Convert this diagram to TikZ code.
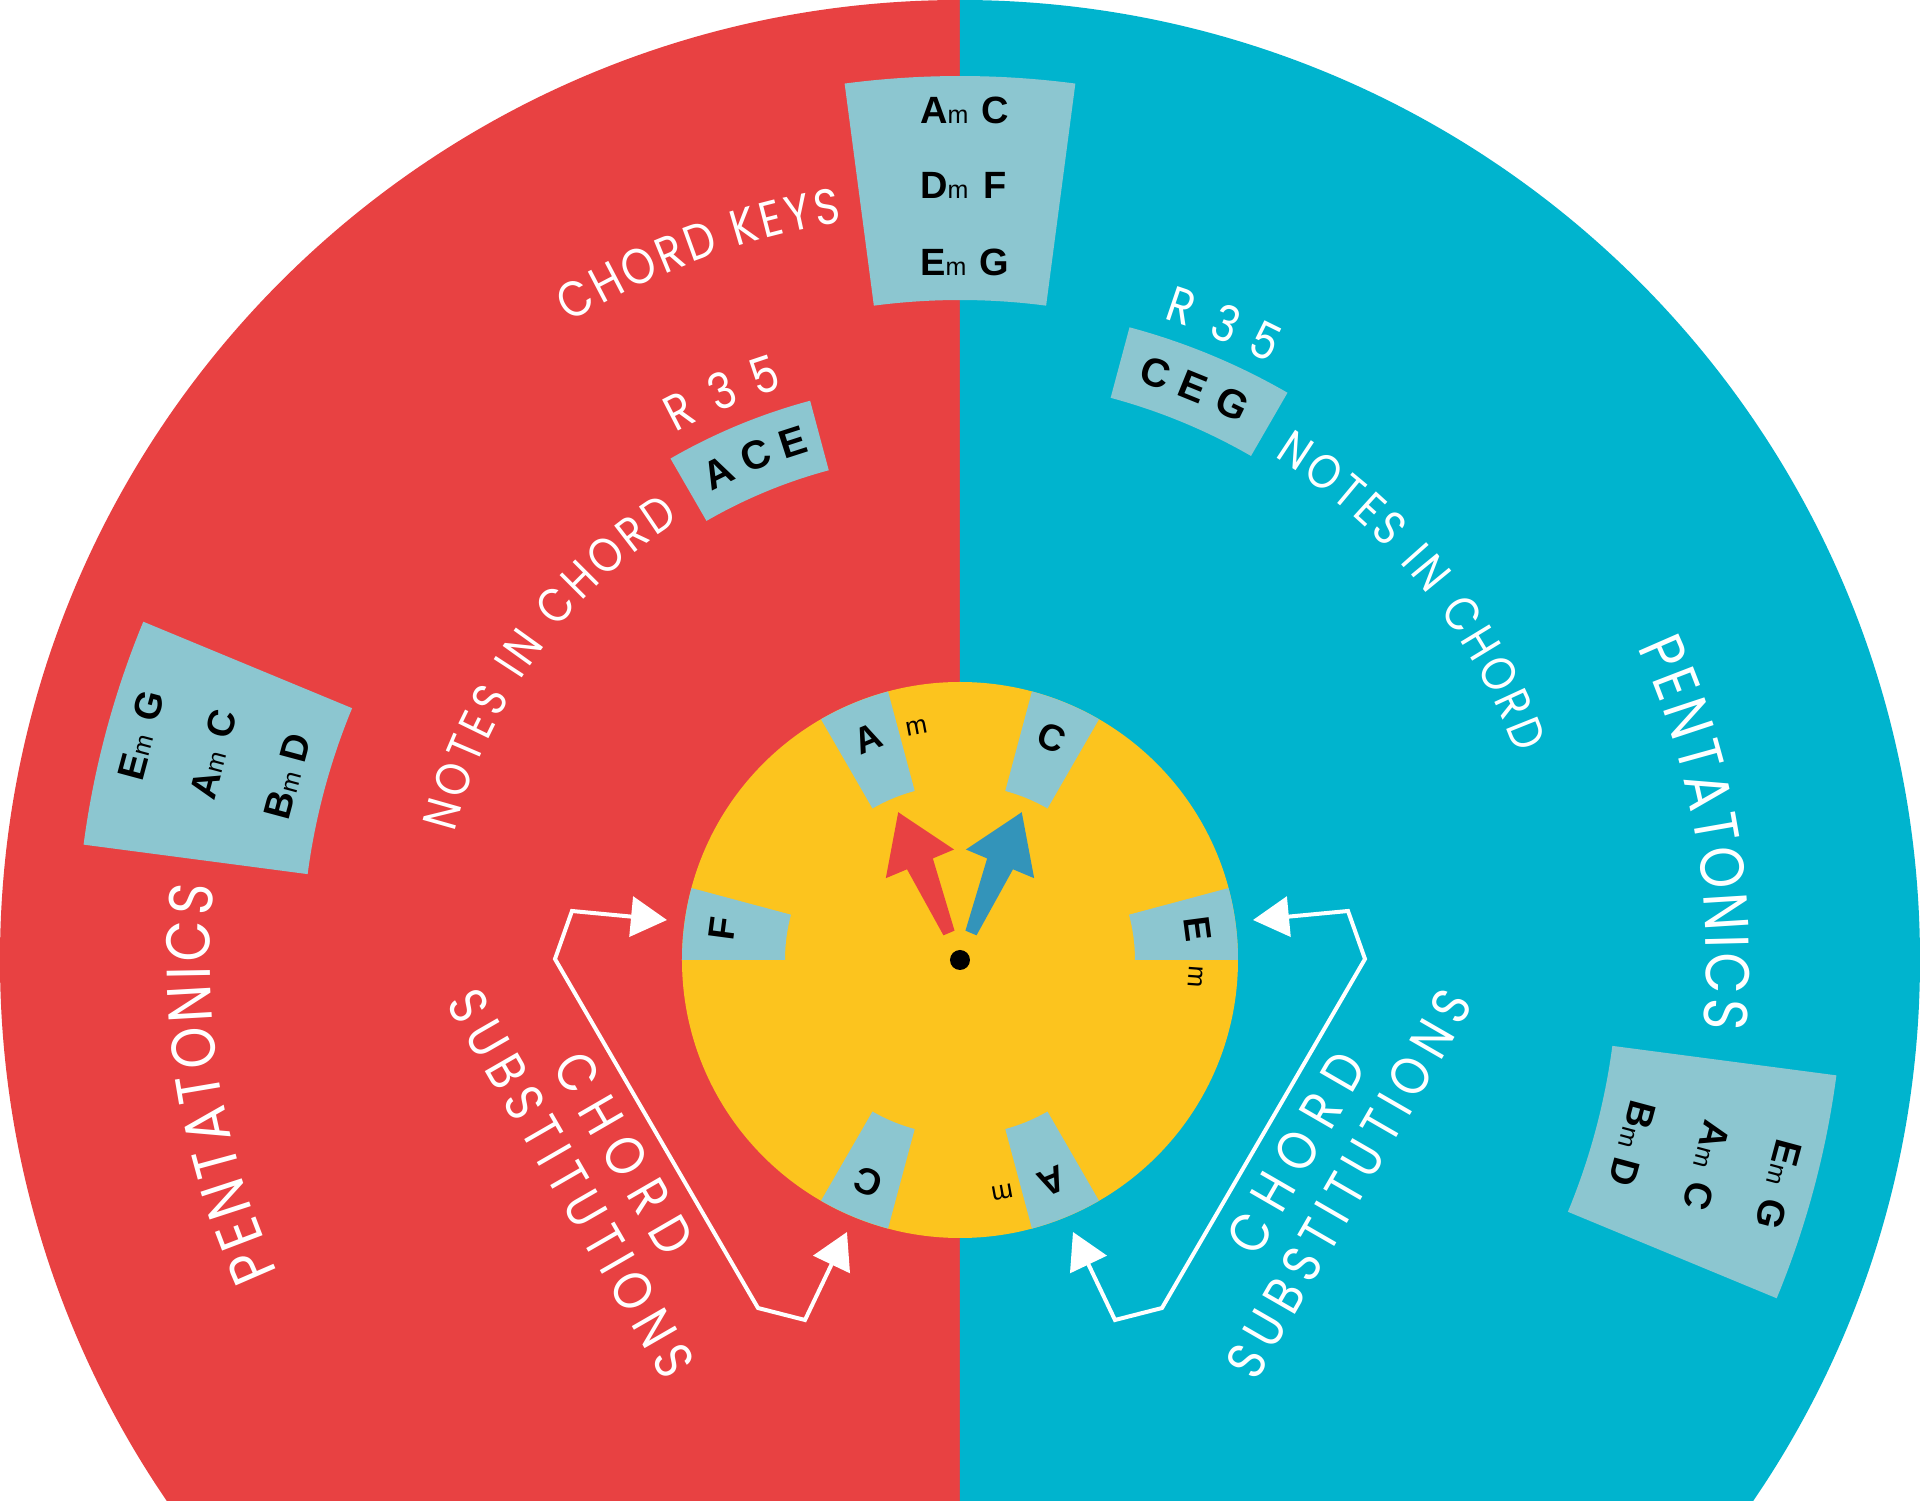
\documentclass[tikz,border=0pt]{standalone}
\usepackage{fontspec}
\setmainfont{Liberation Sans}
\newfontfamily\lt{Poppins}[FakeStretch=0.86]
\usetikzlibrary{decorations.text,arrows.meta}
\definecolor{cred}{HTML}{E84142}
\definecolor{cblue}{HTML}{00B4CE}
\definecolor{cyel}{HTML}{FCC41E}
\definecolor{ctile}{HTML}{8CC6D0}
\definecolor{cdblue}{HTML}{3394BA}
\newcommand\annsec[4]{(#1:#4) arc[start angle=#1,end angle=#2,radius=#4] -- (#2:#3) arc[start angle=#2,end angle=#1,radius=#3] -- cycle}
\newcommand\chordL[1]{{\fontsize{38}{38}\selectfont\bfseries #1}}
\newcommand\chordm{{\fontsize{25}{25}\selectfont m}}
\newcommand\arctext[5]{\path[decorate,decoration={text along path,text align={fit to path},text={|\lt\fontsize{#1}{#1}\selectfont\color{white}|#5}}] (#3:#2) arc[start angle=#3,end angle=#4,radius=#2];}
\newcommand\linetext[4]{\path[decorate,decoration={text along path,text align={fit to path},text={|\lt\fontsize{#1}{#1}\selectfont\color{white}|#4}}] (#2) -- (#3);}
\newcommand\keytile[8]{%
\begin{scope}[rotate=#1, transform shape]
\node[keyl] (#2a1) at (-40,836) {\chordL{#3}\chordm};
\node[keyl] (#2b1) at (21,836) {\chordL{#4}};
\node[keyl] (#2a2) at (-40,761) {\chordL{#5}\chordm};
\node[keyl] (#2b2) at (23,761) {\chordL{#6}};
\node[keyl] (#2a3) at (-40,684) {\chordL{#7}\chordm};
\node[keyl] (#2b3) at (19,684) {\chordL{#8}};
\end{scope}}
\tikzset{
  keyl/.style={anchor=base west, inner sep=0pt, text=black},
  wheel/.style={inner sep=0pt, text=black, font=\fontsize{37}{37}\selectfont\bfseries},
  chordnote/.style={inner sep=0pt, text=black, font=\fontsize{40}{40}\selectfont\bfseries},
  wheelm/.style={inner sep=0pt, text=black, font=\fontsize{26}{26}\selectfont},
  thin/.style={inner sep=0pt, text=white, font=\lt\fontsize{50}{50}\selectfont},
  conn/.style={draw=white, line width=4pt, line join=miter,
    {Triangle[length=36pt,width=40pt]}-{Triangle[length=36pt,width=40pt]}}
}
\begin{document}
\begin{tikzpicture}[x=1pt,y=1pt]
\clip (-960,-541) rectangle (960,960);
\fill[white] (-960,-541) rectangle (960,960);
% big halves
\fill[cred] (0,960) arc[start angle=90,end angle=270,radius=960] -- cycle;
\fill[cblue] (0,-960) arc[start angle=-90,end angle=90,radius=960] -- cycle;
% big tiles
\fill[ctile] \annsec{82.5}{97.5}{660}{884};
\fill[ctile] \annsec{157.5}{172.5}{658}{884};
\fill[ctile] \annsec{-22.5}{-7.5}{658}{884};
\fill[ctile] \annsec{105}{120}{507}{579};
\fill[ctile] \annsec{60}{75}{582}{655};
% tile contents
\keytile{0}{ck}{A}{C}{D}{F}{E}{G}
\keytile{75}{pl}{E}{G}{A}{C}{B}{D}
\keytile{-105}{pr}{E}{G}{A}{C}{B}{D}
% notes in chord
\foreach \a/\t/\n in {116.4/A/na,112/C/nc,107.9/E/ne}
  \node[chordnote, rotate=\a-90] (\n) at (\a:544) {\t};
\foreach \a/\t/\n in {71.6/C/mc,67.9/E/me,63.9/G/mg}
  \node[chordnote, rotate=\a-90] (\n) at (\a:619) {\t};
\foreach \a/\t/\n in {117.1/R/rl1,112.7/3/rl2,108.5/5/rl3}
  \node[thin, rotate=\a-90] (\n) at (\a:617) {\t};
\foreach \a/\t/\n in {71.3/R/rr1,67.3/3/rr2,63.7/5/rr3}
  \node[thin, rotate=\a-90] (\n) at (\a:690) {\t};
% curved labels
\arctext{50}{747}{121.5}{99.1}{CHORD KEYS}
\arctext{48}{521}{165.8}{122.5}{NOTES IN CHORD}
\arctext{48}{593}{58.0}{20.4}{NOTES IN CHORD}
\arctext{62}{750}{204.6}{174.3}{PENTATONICS}
\arctext{62}{746}{24.8}{-5.3}{PENTATONICS}
% straight labels
\coordinate (csl1) at (-408,-107); \coordinate (csl2) at (-297,-299);
\coordinate (ssl1) at (-514,-44); \coordinate (ssl2) at (-296,-422);
\coordinate (csr1) at (297,-299); \coordinate (csr2) at (408,-107);
\coordinate (ssr1) at (296,-422); \coordinate (ssr2) at (514,-44);
\linetext{55}{csl1}{csl2}{CHORD}
\linetext{54}{ssl1}{ssl2}{SUBSTITUTIONS}
\linetext{55}{csr1}{csr2}{CHORD}
\linetext{54}{ssr1}{ssr2}{SUBSTITUTIONS}
% inner wheel
\fill[cyel] (0,0) circle[radius=278];
\foreach \a/\b in {0/15,60/75,105/120,165/180,240/255,285/300}
  \fill[ctile] \annsec{\a}{\b}{175}{278};
\foreach \a/\t/\n in {7.5/E/we,67.5/C/wc,112.5/A/wa,172.5/F/wf,247.5/C/wc2,292.5/A/wa2}
  \node[wheel, rotate=\a-90] (\n) at (\a:240) {\t};
\foreach \a/\n in {-4.2/wm1,100.6/wm2,280.3/wm3}
  \node[wheelm, rotate=\a-90] (\n) at (\a:236) {m};
% pointer arrows
\fill[cred, shift={(-11,27)}, rotate=112.8] (0,-6) -- (75,-14) -- (75,-37) -- (131,0) -- (75,37) -- (75,14) -- (0,6) -- cycle;
\fill[cdblue, shift={(11,27)}, rotate=67.2] (0,-6) -- (75,-14) -- (75,-37) -- (131,0) -- (75,37) -- (75,14) -- (0,6) -- cycle;
\fill[black] (0,0) circle[radius=10];
% connectors
\coordinate (tipF) at (-293,40);
\coordinate (l1) at (-388,49);
\coordinate (l2) at (-405,1);
\coordinate (l3) at (-202,-348);
\coordinate (l4) at (-155,-360);
\coordinate (tipC) at (-113,-272);
\draw[conn] (tipF) -- (l1) -- (l2) -- (l3) -- (l4) -- (tipC);
\coordinate (tipE) at (293,40);
\coordinate (r1) at (388,49);
\coordinate (r2) at (405,1);
\coordinate (r3) at (202,-348);
\coordinate (r4) at (155,-360);
\coordinate (tipA) at (113,-272);
\draw[conn] (tipE) -- (r1) -- (r2) -- (r3) -- (r4) -- (tipA);
\end{tikzpicture}
\end{document}
